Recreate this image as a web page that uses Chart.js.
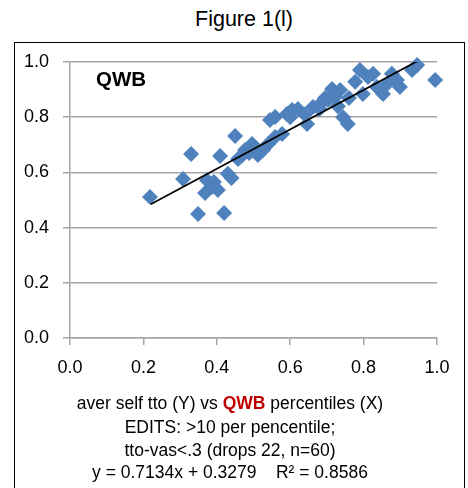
<!DOCTYPE html>
<html>
<head>
<meta charset="utf-8">
<script src="https://cdn.jsdelivr.net/npm/chart.js@4/dist/chart.umd.min.js"></script>
<style>
  html, body { margin: 0; padding: 0; background: #fff; }
  #wrap { position: relative; width: 468px; height: 488px; overflow: hidden; font-family: "Liberation Sans", Arial, sans-serif; }
  #title { position: absolute; left: 0; width: 488px; top: 7px; text-align: center; font-size: 21.5px; color: #000; }
  #frame { position: absolute; left: 14px; top: 42px; width: 451px; height: 460px; border: 1.5px solid #000; box-sizing: border-box; }
  #chart { position: absolute; left: 0; top: 0; }
  .cap { position: absolute; left: 0; width: 460px; text-align: center; font-size: 17.5px; color: #000; white-space: pre; }
  .red { color: #C00000; font-weight: bold; }
</style>
</head>
<body>
<div id="wrap">
  <div id="title">Figure 1(l)</div>
  <div id="frame"></div>
  <canvas id="chart" width="468" height="488"></canvas>
  <div class="cap" style="top:393px">aver self tto (Y) vs <span class="red">QWB</span> percentiles (X)</div>
  <div class="cap" style="top:417px">EDITS: &gt;10 per pencentile;</div>
  <div class="cap" style="top:440px">tto-vas&lt;.3 (drops 22, n=60)</div>
  <div class="cap" style="top:462px">y = 0.7134x + 0.3279    R² = 0.8586</div>
</div>
<script>
// QWB percentile (x) and average self TTO (y)
const qwbPercentile = [
  0.218, 0.308, 0.330, 0.349, 0.420, 0.409, 0.373, 0.387, 0.403, 0.368,
  0.392, 0.430, 0.440, 0.450, 0.458, 0.477, 0.496, 0.512, 0.526, 0.540,
  0.559, 0.578, 0.545, 0.559, 0.591, 0.605, 0.621, 0.646, 0.640, 0.662,
  0.687, 0.703, 0.714, 0.722, 0.736, 0.744, 0.757, 0.777, 0.790, 0.798,
  0.812, 0.826, 0.836, 0.853, 0.864, 0.877, 0.891, 0.899, 0.932, 0.946,
  0.995, 0.695, 0.488, 0.505, 0.468, 0.600, 0.680, 0.730, 0.760, 0.500
];
const avgSelfTto = [
  0.511, 0.576, 0.667, 0.449, 0.453, 0.659, 0.572, 0.547, 0.536, 0.525,
  0.565, 0.595, 0.580, 0.732, 0.649, 0.681, 0.703, 0.663, 0.681, 0.703,
  0.728, 0.739, 0.790, 0.801, 0.812, 0.826, 0.830, 0.775, 0.810, 0.837,
  0.855, 0.862, 0.902, 0.873, 0.899, 0.800, 0.775, 0.928, 0.971, 0.884,
  0.946, 0.957, 0.909, 0.884, 0.920, 0.957, 0.935, 0.909, 0.971, 0.989,
  0.935, 0.870, 0.670, 0.690, 0.660, 0.800, 0.830, 0.840, 0.870, 0.680
];
// linear trend y = 0.7134x + 0.3279
const trendSlope = 0.7134;
const trendIntercept = 0.3279;
const trendRangeX = [0.22, 0.95];
const axisTicks = [0.0, 0.2, 0.4, 0.6, 0.8, 1.0];

const points = qwbPercentile.map((x, i) => ({ x: x, y: avgSelfTto[i] }));
const trend = trendRangeX.map(x => ({ x: x, y: trendSlope * x + trendIntercept }));

// "QWB" label inside the plot area
const plotLabel = {
  id: 'plotLabel',
  afterDraw(chart) {
    const ctx = chart.ctx;
    ctx.save();
    ctx.font = 'bold 20.5px "Liberation Sans", Arial, sans-serif';
    ctx.fillStyle = '#000';
    ctx.textBaseline = 'middle';
    ctx.fillText('QWB', 96, 80);
    ctx.restore();
  }
};

const gridColor = '#a6a6a6';
const tickFont = { family: '"Liberation Sans", Arial, sans-serif', size: 18 };

new Chart(document.getElementById('chart'), {
  type: 'scatter',
  data: {
    datasets: [
      {
        type: 'line',
        data: trend,
        borderColor: '#000',
        borderWidth: 1.75,
        pointRadius: 0,
        fill: false,
        order: 0
      },
      {
        data: points,
        pointStyle: 'rectRot',
        pointRadius: 8,
        pointHoverRadius: 8,
        backgroundColor: '#4F81BD',
        borderColor: '#4F81BD',
        borderWidth: 0,
        clip: false,
        order: 1
      }
    ]
  },
  options: {
    responsive: false,
    animation: false,
    layout: { padding: { left: 0, right: 31, top: 62, bottom: 110 } },
    plugins: { legend: { display: false }, tooltip: { enabled: false } },
    scales: {
      x: {
        type: 'linear',
        min: 0, max: 1,
        afterBuildTicks(scale) { scale.ticks = axisTicks.map(v => ({ value: v })); },
        afterFit(scale) { scale.height = 40; },
        ticks: { callback: v => v.toFixed(1), font: tickFont, color: '#000', padding: 12, maxRotation: 0 },
        grid: { display: true, drawOnChartArea: false, drawTicks: true, tickLength: 7, color: gridColor, lineWidth: 1.5 },
        border: { color: gridColor, width: 1.5 }
      },
      y: {
        type: 'linear',
        min: 0, max: 1,
        afterBuildTicks(scale) { scale.ticks = axisTicks.map(v => ({ value: v })); },
        afterFit(scale) { scale.width = 70; },
        ticks: { callback: v => v.toFixed(1), font: tickFont, color: '#000', padding: 14 },
        grid: { color: gridColor, lineWidth: 1.5, tickLength: 7 },
        border: { color: gridColor, width: 1.5 }
      }
    }
  },
  plugins: [plotLabel]
});
</script>
</body>
</html>
